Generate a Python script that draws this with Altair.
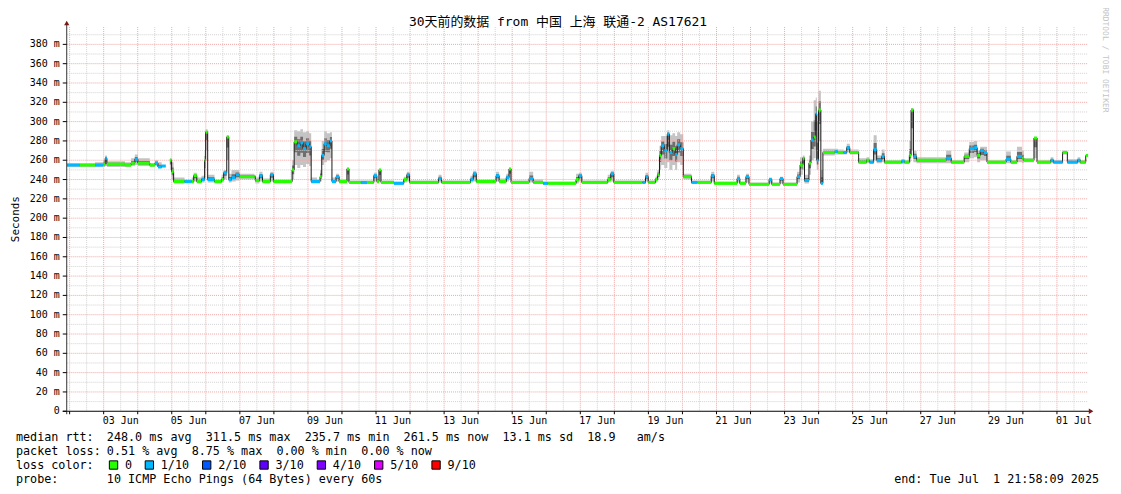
import altair as alt
import pandas as pd

# ---------------- data ----------------
START = "2025-06-01 21:58:09"
SPAN_DAYS = 30

# time in days since START, median rtt (ms), smoke min/max (ms), loss class index
day = [0.01, 0.39, 0.83, 1.07, 1.13, 1.18, 1.71, 1.89, 2.00, 2.09, 2.44, 2.59, 2.68, 2.79, 2.91,
       3.03, 3.08, 3.14, 3.46, 3.67, 3.73, 3.82, 3.96, 4.05, 4.08, 4.14, 4.34, 4.55, 4.61, 4.70,
       4.76, 4.84, 4.96, 5.07, 5.51, 5.54, 5.66, 5.75, 5.98, 6.07, 6.56, 6.62, 6.68, 6.77, 6.86,
       6.94, 7.03, 7.12, 7.18, 7.35, 7.44, 7.49, 7.56, 7.64, 7.73, 7.79, 7.91, 8.00, 8.23, 8.29,
       8.64, 8.82, 9.02, 9.11, 9.17, 9.23, 9.61, 9.90, 9.99, 10.07, 10.92, 11.01, 11.86, 11.94,
       12.03, 12.53, 12.61, 12.70, 12.91, 12.99, 13.05, 13.58, 13.70, 13.99, 14.14, 14.96, 15.04,
       15.13, 15.89, 15.98, 16.07, 16.91, 17.00, 17.08, 17.29, 17.35, 17.41, 17.46, 17.55, 17.64,
       17.70, 17.79, 17.87, 17.93, 18.02, 18.11, 18.35, 18.52, 18.93, 19.02, 19.69, 19.77, 19.95,
       20.04, 20.63, 20.71, 20.95, 21.04, 21.45, 21.54, 21.62, 21.67, 21.80, 21.86, 21.94, 22.00,
       22.03, 22.08, 22.15, 22.21, 22.56, 22.65, 22.82, 22.91, 23.00, 23.26, 23.49, 23.58, 23.70,
       23.79, 23.94, 24.02, 24.52, 24.61, 24.75, 24.80, 24.87, 24.96, 25.83, 25.98, 26.36, 26.51,
       26.65, 26.74, 26.83, 26.94, 27.03, 27.59, 27.73, 27.91, 28.06, 28.11, 28.41, 28.50, 28.90,
       28.98, 29.25, 29.39, 29.69, 29.77, 29.93]

median = [255, 255, 255, 256, 262, 256, 255, 257, 261, 257, 255, 257, 253, 254, None,
          260, 248, 238, 238, 238, 244, 238, 240, 260, 289, 240, 238, 240, 247, 284,
          240, 242, 245, 243, 243, 239, 244, 238, 245, 238, 238, 250, 279, 275, 278,
          272, 277, 274, 238, 238, 243, 265, 277, 275, 280, 238, 243, 238, 251, 237,
          237, 237, 244, 238, 250, 237, 236, 240, 245, 237, 241, 237, 240, 246,
          238, 238, 244, 238, 242, 251, 237, 241, 237, 236, 236, 240, 244,
          237, 240, 246, 237, 237, 243, 237, 240, 245, 265, 275, 270, 287,
          268, 272, 266, 276, 272, 243, 237, 237, 244, 236, 241, 236, 243,
          235, 240, 235, 241, 235, 243, 255, 262, 239, 257, 281, 284, 308,
          260, 312, 236, 268, 269, 268, 268, 273, 268, 258, 260, 258, 271,
          260, 264, 258, 259, 258, 265, 312, 264, 260, 262, 258, 264, 272,
          273, 265, 270, 268, 258, 261, 258, 264, 262, 260, 283, 258, 260,
          258, 268, 258, 260, 258, 265]

smoke_lo = [253, 253, 253, 253, 254, 253, 253, 254, 255, 254, 253, 254, 252, 252, None,
            250, 240, 236, 236, 236, 238, 236, 237, 242, 270, 237, 236, 237, 240, 260,
            237, 238, 239, 240, 240, 236, 238, 236, 238, 236, 236, 240, 255, 252, 255,
            253, 256, 254, 236, 236, 238, 255, 258, 260, 262, 236, 238, 236, 238, 236,
            235, 236, 238, 236, 238, 236, 235, 237, 238, 236, 237, 236, 237, 238,
            236, 236, 238, 236, 238, 240, 236, 237, 236, 235, 235, 236, 238,
            236, 237, 238, 236, 236, 238, 236, 237, 240, 250, 255, 252, 258,
            250, 255, 250, 258, 255, 240, 236, 236, 238, 235, 237, 235, 237,
            234, 236, 234, 236, 234, 237, 245, 250, 236, 245, 260, 262, 270,
            250, 280, 235, 265, 266, 266, 266, 268, 266, 256, 257, 256, 260,
            257, 258, 256, 256, 256, 258, 270, 258, 257, 257, 256, 258, 262,
            263, 258, 260, 260, 256, 257, 256, 258, 257, 258, 262, 256, 257,
            256, 266, 256, 257, 256, 258]

smoke_hi = [257, 257, 258, 260, 265, 259, 258, 262, 266, 262, 257, 260, 258, 256, None,
            262, 258, 242, 240, 242, 247, 242, 244, 270, 292, 245, 240, 245, 250, 286,
            246, 250, 250, 246, 245, 242, 248, 241, 248, 240, 240, 260, 291, 290, 292,
            289, 290, 288, 242, 240, 250, 280, 290, 288, 289, 242, 246, 240, 252, 239,
            239, 239, 247, 240, 251, 239, 238, 243, 248, 239, 245, 239, 244, 249,
            240, 240, 248, 241, 246, 252, 239, 248, 240, 238, 238, 246, 247,
            239, 245, 249, 239, 239, 247, 239, 243, 250, 275, 285, 285, 291,
            286, 288, 285, 289, 287, 246, 239, 239, 248, 238, 245, 238, 246,
            237, 242, 237, 243, 237, 248, 263, 265, 245, 265, 300, 322, 325,
            300, 332, 250, 272, 272, 271, 270, 277, 271, 262, 263, 261, 286,
            265, 271, 260, 261, 260, 280, 314, 270, 263, 270, 260, 268, 279,
            280, 270, 274, 274, 260, 269, 260, 274, 270, 262, 284, 260, 263,
            260, 270, 261, 263, 260, 266]

loss = [1, 0, 1, 0, 1, 0, 0, 0, 1, 0, 0, 1, 1, 1, 0,
        0, 0, 0, 1, 0, 0, 0, 1, 0, 0, 1, 0, 0, 1, 0,
        1, 1, 1, 0, 0, 0, 1, 0, 1, 0, 0, 0, 0, 1, 1,
        1, 1, 1, 1, 1, 0, 1, 1, 1, 1, 1, 1, 0, 0, 0,
        1, 0, 1, 0, 0, 0, 1, 0, 1, 0, 1, 0, 1, 1,
        0, 0, 1, 0, 1, 0, 0, 1, 0, 1, 0, 0, 1,
        0, 0, 1, 0, 1, 1, 0, 0, 0, 0, 1, 1, 1,
        1, 0, 1, 1, 1, 0, 1, 0, 1, 0, 1, 0, 1,
        0, 1, 0, 1, 0, 1, 0, 0, 1, 0, 1, 0, 1,
        1, 0, 1, 0, 1, 0, 1, 1, 0, 0, 0, 1, 1,
        1, 1, 0, 1, 0, 0, 0, 1, 0, 1, 0, 0, 1,
        1, 0, 1, 1, 0, 1, 0, 1, 0, 0, 0, 0, 1,
        1, 0, 1, 1, 0, 0]

loss_labels = ["0", "1/10", "2/10", "3/10", "4/10", "5/10", "9/10"]
loss_colors = ["#26ff00", "#00b8ff", "#0059ff", "#5e00ff", "#7e00ff", "#dd00ff", "#ff0000"]

title_text = "30天前的数据 from 中国 上海 联通-2 AS17621"
legend_keys = ["median rtt:", "packet loss:", "loss color:", "probe:"]
legend_vals = ["248.0 ms avg  311.5 ms max  235.7 ms min  261.5 ms now  13.1 ms sd  18.9   am/s",
               "0.51 % avg  8.75 % max  0.00 % min  0.00 % now",
               "",
               "10 ICMP Echo Pings (64 Bytes) every 60s"]
end_text = "end: Tue Jul  1 21:58:09 2025"
watermark = "RRDTOOL / TOBI OETIKER"
y_title = "Seconds"

# ---------------- build tables ----------------
MONO = "DejaVu Sans Mono"
W, H = 1026, 386
OX, OY = 67, 26  # plot origin on the page
start = pd.Timestamp(START, tz="UTC")
end = start + pd.Timedelta(days=SPAN_DAYS)


def to_ms(ts):
    return int(ts.value // 10**6)


start_ms, end_ms = to_ms(start), to_ms(end)

df = pd.DataFrame({"day": day, "med": median, "lo": smoke_lo, "hi": smoke_hi,
                   "loss": [loss_labels[i] for i in loss]})
df["t"] = [to_ms(start + pd.Timedelta(days=d)) for d in df["day"]]
df["t2"] = df["t"].shift(-1).fillna(end_ms).astype("int64")
df["gap"] = df["med"].isna().astype(int).cumsum()
df = df[df["med"].notna()].copy()
df["ilo"] = df["med"] - (df["med"] - df["lo"]) * 0.45
df["ihi"] = df["med"] + (df["hi"] - df["med"]) * 0.45


def nb(s):
    return s.replace(" ", "\u00a0")


RED = "#f2a4a4"
GRAY = "#d2d2d2"

# grid / tick positions (layout)
vt = pd.date_range("2025-06-02 00:00", "2025-07-01 12:00", freq="12h", tz="UTC")
vgrid = pd.DataFrame({"t": [to_ms(t) for t in vt],
                      "major": [t.hour == 0 for t in vt]})
vgrid["col"] = [RED if m else GRAY for m in vgrid["major"]]
hv = list(range(10, 400, 10))
hgrid = pd.DataFrame({"v": hv, "col": [RED if v % 20 == 0 else GRAY for v in hv]})

label_days = pd.date_range("2025-06-03 12:00", "2025-07-01 12:00", freq="48h", tz="UTC")
xlab = pd.DataFrame({"t": [to_ms(t) for t in label_days],
                     "txt": [nb(t.strftime("%d %b")) for t in label_days]})
yv = list(range(0, 400, 20))
ylab = pd.DataFrame({"v": yv, "txt": [("0" if v == 0 else nb("%d m" % v)) for v in yv]})

xs = alt.Scale(type="utc", domain=[start_ms, end_ms], nice=False)
ys = alt.Scale(domain=[0, 398], nice=False, zero=True)

base = alt.Chart(df)

smoke_outer = base.mark_area(interpolate="step-after", color="#c4c4c4").encode(
    x=alt.X("t:T", scale=xs, axis=None),
    y=alt.Y("lo:Q", scale=ys, axis=None),
    y2="hi:Q",
    detail="gap:N",
)
smoke_inner = base.mark_area(interpolate="step-after", color="#6e6e6e").encode(
    x=alt.X("t:T", scale=xs, axis=None),
    y=alt.Y("ilo:Q", scale=ys, axis=None),
    y2="ihi:Q",
    detail="gap:N",
)
med_line = base.mark_line(interpolate="step-after", color="#1a1a1a", strokeWidth=1).encode(
    x=alt.X("t:T", scale=xs, axis=None),
    y=alt.Y("med:Q", scale=ys, axis=None),
    detail="gap:N",
)
med_seg = base.mark_rule(strokeWidth=3).encode(
    x=alt.X("t:T", scale=xs, axis=None),
    x2="t2:T",
    y=alt.Y("med:Q", scale=ys, axis=None),
    color=alt.Color("loss:N", scale=alt.Scale(domain=loss_labels, range=loss_colors), legend=None),
)

vgrid_l = alt.Chart(vgrid).mark_rule(strokeDash=[1, 1], strokeWidth=1).encode(
    x=alt.X("t:T", scale=xs, axis=None),
    y=alt.value(0), y2=alt.value(H),
    color=alt.Color("col:N", scale=None),
)
hgrid_l = alt.Chart(hgrid).mark_rule(strokeDash=[1, 1], strokeWidth=1).encode(
    y=alt.Y("v:Q", scale=ys, axis=None),
    x=alt.value(0), x2=alt.value(W),
    color=alt.Color("col:N", scale=None),
)
# small ticks
xticks = alt.Chart(vgrid[vgrid["major"]]).mark_rule(color="#000000", strokeWidth=1).encode(
    x=alt.X("t:T", scale=xs, axis=None), y=alt.value(H), y2=alt.value(H + 3))
yticks = alt.Chart(ylab).mark_rule(color="#000000", strokeWidth=1).encode(
    y=alt.Y("v:Q", scale=ys, axis=None), x=alt.value(-4), x2=alt.value(0))
xlabels = alt.Chart(xlab).mark_text(font=MONO, fontSize=10, baseline="middle", align="center",
                                    color="#000000").encode(
    x=alt.X("t:T", scale=xs, axis=None), y=alt.value(H + 10), text="txt:N")
ylabels = alt.Chart(ylab).mark_text(font=MONO, fontSize=10, baseline="middle", align="right",
                                    color="#000000").encode(
    y=alt.Y("v:Q", scale=ys, axis=None), x=alt.value(-7), text="txt:N")

one = pd.DataFrame({"k": [0]})
# axis lines
xdomain = alt.Chart(one).mark_rule(color="#000000", strokeWidth=1).encode(
    x=alt.value(-4), x2=alt.value(W + 2), y=alt.value(H))
ydomain = alt.Chart(one).mark_rule(color="#333333", strokeWidth=1).encode(
    x=alt.value(0), y=alt.value(-3), y2=alt.value(H + 3))


def txt(text, x, y, size=11.8, align="left", angle=0, color="#000000", font=MONO):
    return alt.Chart(one).mark_text(
        text=nb(text), font=font, fontSize=size, align=align, baseline="middle",
        angle=angle, color=color,
    ).encode(x=alt.value(x), y=alt.value(y))


title = txt(title_text, 560.5 - OX, 21 - OY, size=13, align="center",
            font=MONO + ", Noto Sans CJK SC")
ytitle = txt(y_title, 16 - OX, 219 - OY, size=11, align="center", angle=270)
wm = txt(watermark, 1110 - OX, 59 - OY, size=8, align="center", angle=90, color="#c4c4c4")
endt = txt(end_text, 1104 - OX, 480 - OY, align="right")

leg = pd.DataFrame({"key": [nb(k) for k in legend_keys], "val": [nb(v) for v in legend_vals]})
leg["row"] = range(len(leg))
leg["ypx"] = 438.3 - OY + leg["row"] * 13.9
leg_keys = alt.Chart(leg).mark_text(font=MONO, fontSize=11.8, align="left", baseline="middle",
                                    color="#000000").encode(
    x=alt.value(16 - OX), y=alt.Y("ypx:Q", scale=None), text="key:N")
leg_vals = alt.Chart(leg).mark_text(font=MONO, fontSize=11.8, align="left", baseline="middle",
                                    color="#000000").encode(
    x=alt.value(107.3 - OX), y=alt.Y("ypx:Q", scale=None), text="val:N")

# loss colour legend (monospace layout)
CW = 7.2
lx = []
pos = 125.5
for lab in loss_labels:
    lx.append(pos)
    pos += (len(lab) + 4) * CW
lc = pd.DataFrame({"lab": loss_labels, "col": loss_colors,
                   "tx": [p - OX for p in lx], "sx": [p - 11.5 - OX for p in lx]})
lc["ypx"] = 466 - OY
sq = alt.Chart(lc).mark_square(size=70, stroke="#000000", strokeWidth=1, opacity=1).encode(
    x=alt.X("sx:Q", scale=None), y=alt.Y("ypx:Q", scale=None),
    fill=alt.Fill("col:N", scale=None))
sq_lab = alt.Chart(lc).mark_text(font=MONO, fontSize=11.8, align="left", baseline="middle",
                                 color="#000000").encode(
    x=alt.X("tx:Q", scale=None), y=alt.Y("ypx:Q", scale=None), text="lab:N")

ARROW = "#7a1818"
yarrow = alt.Chart(one).mark_point(shape="triangle-up", filled=True, size=28, color=ARROW,
                                   opacity=1).encode(x=alt.value(0), y=alt.value(-4))
xarrow = alt.Chart(one).mark_point(shape="triangle-right", filled=True, size=28, color=ARROW,
                                   opacity=1).encode(x=alt.value(W + 3), y=alt.value(H))

chart = alt.layer(
    smoke_outer, smoke_inner, vgrid_l, hgrid_l, med_line, med_seg,
    xdomain, ydomain, xticks, yticks, xlabels, ylabels,
    title, ytitle, wm, endt, leg_keys, leg_vals, sq, sq_lab, yarrow, xarrow,
).resolve_scale(color="independent").properties(
    width=W, height=H,
    autosize=alt.AutoSizeParams(type="none"),
    padding={"left": 59, "top": 18, "right": 25, "bottom": 74},
    background="#ffffff",
).configure_view(stroke=None)

chart.save("out.html", embed_options={"renderer": "svg", "actions": False})
